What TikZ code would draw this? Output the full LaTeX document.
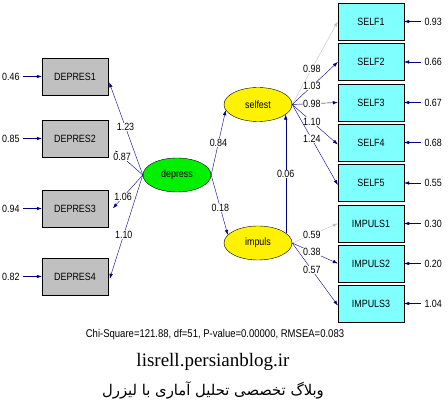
\documentclass[tikz,border=0pt]{standalone}
\usepackage{fontspec}
\setmainfont{Liberation Serif}
\newfontfamily\lisfont[FakeStretch=0.85]{Liberation Sans}
\newfontfamily\arabicfont[Script=Arabic]{DejaVu Sans}
\TeXXeTstate=1
\usepackage{xcolor}
\definecolor{LisNavy}{HTML}{000080}
\definecolor{LisGray}{HTML}{C0C0C0}
\definecolor{LisCyan}{HTML}{80FFFF}
\definecolor{LisGreen}{HTML}{00F000}
\usetikzlibrary{positioning,arrows.meta,shapes.geometric}

\begin{document}
\begin{tikzpicture}[
    x=1pt, y=-1pt,
    every node/.style={font=\lisfont\fontsize{10.5}{12}\selectfont},
    obsbox/.style={rectangle, draw, minimum width=66pt, minimum height=37pt, inner sep=0pt},
    latent/.style={ellipse, draw, minimum width=68pt, minimum height=34pt, inner sep=0pt},
    coef/.style={fill=white, text=black, inner sep=0.5pt},
    load/.style={-{Latex[length=5pt,width=3.5pt]}, LisNavy},
    fixed/.style={-{Latex[length=5pt,width=3.5pt]}, LisGray},
]
\useasboundingbox (0,0) rectangle (448,411);

% Latente Variablen
\node[latent, fill=LisGreen] (depress) at (177,175) {depress};
\node[latent, fill=yellow] (selfest) at (258,104.5) {selfest};
\node[latent, fill=yellow] (impuls) at (258,243) {impuls};

% Indikatoren links
\node[obsbox, fill=LisGray] (d1) at (75,76.5) {DEPRES1};
\node[obsbox, fill=LisGray] (d2) at (75,138.5) {DEPRES2};
\node[obsbox, fill=LisGray] (d3) at (75,208.5) {DEPRES3};
\node[obsbox, fill=LisGray] (d4) at (75,276.5) {DEPRES4};

% Indikatoren rechts
\node[obsbox, fill=LisCyan] (s1) at (371,21.5) {SELF1};
\node[obsbox, fill=LisCyan] (s2) at (371,62) {SELF2};
\node[obsbox, fill=LisCyan] (s3) at (371,102.5) {SELF3};
\node[obsbox, fill=LisCyan] (s4) at (371,142.5) {SELF4};
\node[obsbox, fill=LisCyan] (s5) at (371,183) {SELF5};
\node[obsbox, fill=LisCyan] (i1) at (371,223.5) {IMPULS1};
\node[obsbox, fill=LisCyan] (i2) at (371,263.5) {IMPULS2};
\node[obsbox, fill=LisCyan] (i3) at (371,303.5) {IMPULS3};

% Fehlervarianzen
\node[anchor=east] (ed1) at (23,76.5) {0.46};
\node[anchor=east] (ed2) at (23,138.5) {0.85};
\node[anchor=east] (ed3) at (23,208.5) {0.94};
\node[anchor=east] (ed4) at (23,276.5) {0.82};
\node[anchor=west] (es1) at (421,21.5) {0.93};
\node[anchor=west] (es2) at (421,62) {0.66};
\node[anchor=west] (es3) at (421,102.5) {0.67};
\node[anchor=west] (es4) at (421,142.5) {0.68};
\node[anchor=west] (es5) at (421,183) {0.55};
\node[anchor=west] (ei1) at (421,223.5) {0.30};
\node[anchor=west] (ei2) at (421,263.5) {0.20};
\node[anchor=west] (ei3) at (421,303.5) {1.04};

\draw[load] (ed1) -- (d1);
\draw[load] (ed2) -- (d2);
\draw[load] (ed3) -- (d3);
\draw[load] (ed4) -- (d4);
\draw[load] (es1) -- (s1);
\draw[load] (es2) -- (s2);
\draw[load] (es3) -- (s3);
\draw[load] (es4) -- (s4);
\draw[load] (es5) -- (s5);
\draw[load] (ei1) -- (i1);
\draw[load] (ei2) -- (i2);
\draw[load] (ei3) -- (i3);

% Ladungen depress
\draw[load, shorten >=3pt] (depress.west) -- node[coef, pos=.5] {1.23} ([yshift=-3pt]d1.east);
\draw[load, shorten >=9pt] (depress.west) -- node[coef, pos=.6] {0.87} ([yshift=-6pt]d2.east);
\draw[load, shorten >=7pt] (depress.west) -- node[coef, pos=.57] {1.06} ([yshift=-5pt]d3.east);
\draw[load, shorten >=5pt] (depress.west) -- node[coef, pos=.55] {1.10} ([yshift=-7pt]d4.east);

% Ladungen selfest
\draw[fixed] (selfest.east) -- node[coef, pos=.43] {0.98} (s1.west);
\draw[load] (selfest.east) -- node[coef, pos=.43] {1.03} (s2.west);
\draw[load] (selfest.east) -- node[coef, pos=.43] {0.98} (s3.west);
\draw[load] (selfest.east) -- node[coef, pos=.43] {1.10} ([yshift=-2pt]s4.west);
\draw[load] (selfest.east) -- node[coef, pos=.43] {1.24} ([yshift=-2pt]s5.west);

% Ladungen impuls
\draw[fixed] (impuls.east) -- node[coef, pos=.43] {0.59} (i1.west);
\draw[load] (impuls.east) -- node[coef, pos=.43] {0.38} (i2.west);
\draw[load] (impuls.east) -- node[coef, pos=.43] {0.57} ([yshift=-2pt]i3.west);

% Strukturpfade
\draw[load] (depress.east) -- node[coef, pos=.5] {0.84} (selfest.190);
\draw[load] (depress.east) -- node[coef, pos=.55] {0.18} (impuls.165);
\draw[load] (impuls.20) -- node[coef, pos=.5] {0.06} (selfest.-20);

% Fusszeile
\node[font=\lisfont\fontsize{11.2}{13}\selectfont] (fit) at (215,335) {Chi-Square=121.88, df=51, P-value=0.00000, RMSEA=0.083};
\node[font=\fontsize{19}{22}\selectfont] (blog) at (213,362) {lisrell.persianblog.ir};
\node[font=\arabicfont\fontsize{14.8}{17}\selectfont] (persian) at (213,390) {\beginR وبلاگ تخصصی تحلیل آماری با لیزرل\endR};

\end{tikzpicture}
\end{document}
